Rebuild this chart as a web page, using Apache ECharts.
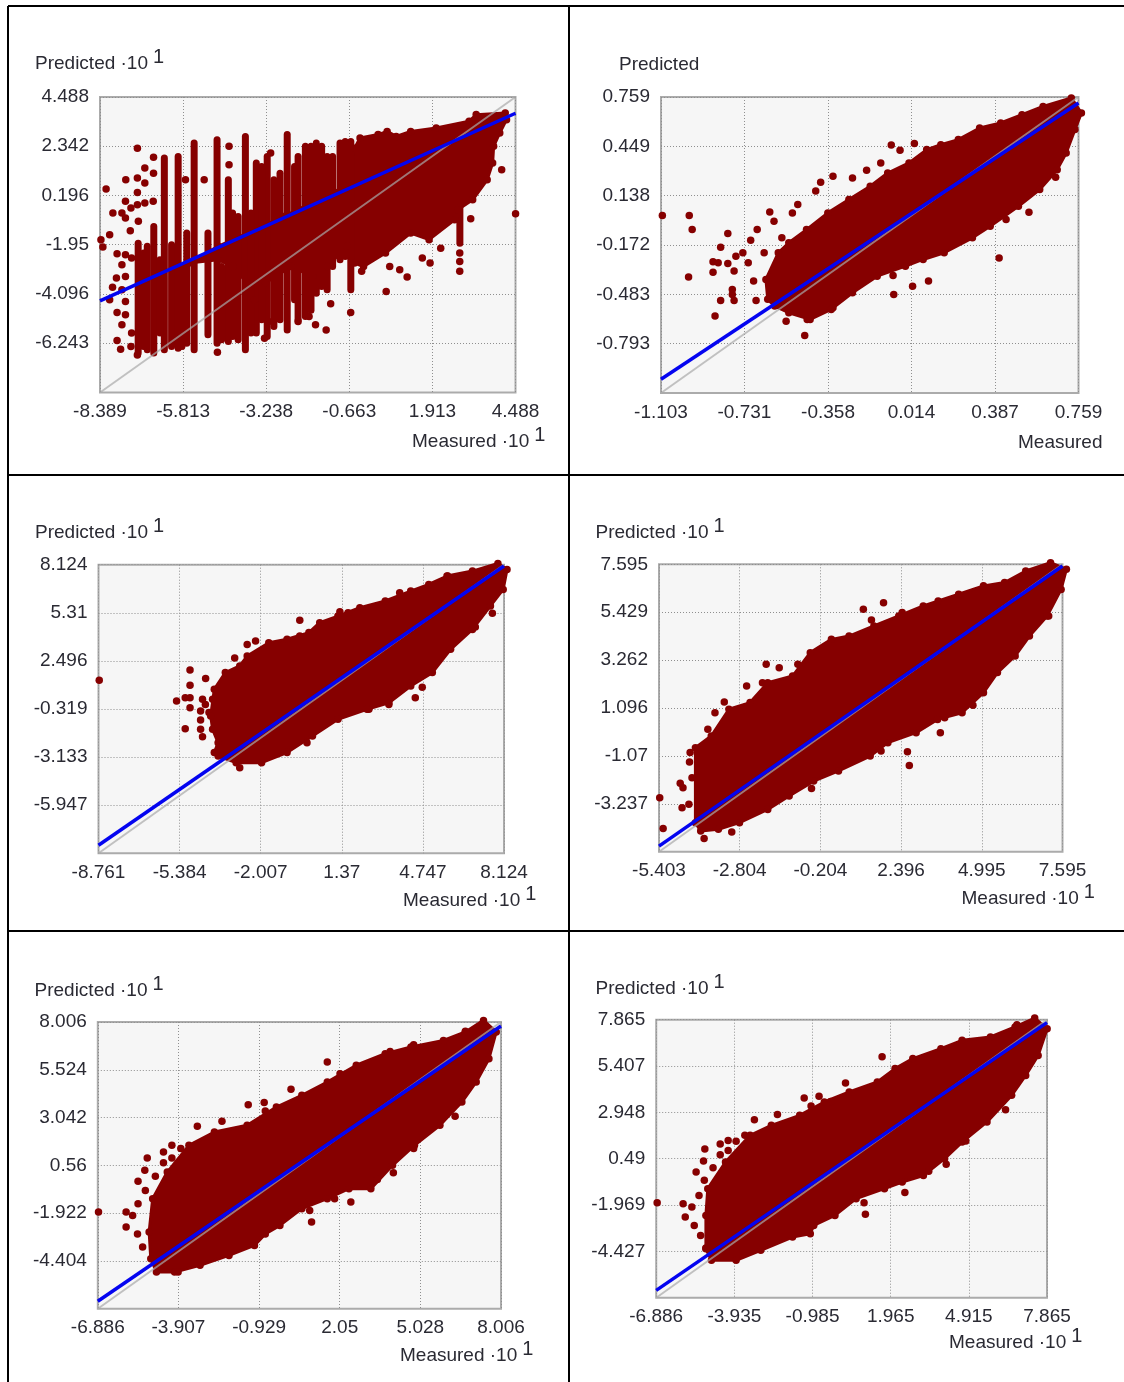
<!DOCTYPE html>
<html><head><meta charset="utf-8">
<script src="https://cdn.jsdelivr.net/npm/echarts@6/dist/echarts.min.js"></script>
<style>html,body{margin:0;padding:0;background:#fff}#c{width:1124px;height:1382px}</style>
</head><body><div id="c"></div>
<script>
// ---------- data (axis units) ----------
const p1X=[-8.389,-5.813,-3.238,-0.663,1.913,4.488];
const p1Y=[-6.243,-4.096,-1.95,0.196,2.342,4.488];
const p1Min=-8.389,p1Max=4.488;
const p1Blue=[[-8.389,-4.396],[4.488,3.78]];
const p1Cloud=[[-0.5,2.26],[-0.33,2.7],[0.23,2.85],[0.51,2.99],[0.79,2.77],[1.24,2.99],[2.03,3.14],[3.05,3.43],[3.27,3.72],[4.17,3.79],[4.21,3.5],[4.0,2.92],[3.81,2.34],[3.78,1.61],[3.61,0.88],[3.16,0.01],[2.71,-0.42],[2.6,-0.86],[1.81,-1.73],[1.24,-1.44],[0.46,-2.31],[-0.22,-2.9],[-0.5,-2.75],[-0.73,-2.02],[-1.35,-2.9],[-1.8,-3.33],[-2.47,-2.9],[-3.26,-3.62],[-3.6,-4.35],[-3.83,-3.62],[-4.28,-2.9],[-4.73,-2.6],[-5.63,-2.75],[-4.73,-2.02],[-2.7,-0.72],[-0.79,0.59]];
const p1Stripes=[[-7.206,-1.88,-6.67],[-6.924,-2.02,-6.53],[-6.722,-1.15,-6.67],[-6.395,1.83,-6.53],[-6.17,-1.95,-6.38],[-5.967,1.9,-6.46],[-5.7,-1.44,-6.24],[-5.471,2.48,-6.53],[-5.043,-1.44,-5.87],[-4.761,2.63,-6.24],[-4.412,0.88,-6.17],[-4.108,-0.72,-6.09],[-3.883,2.77,-6.53],[-3.545,1.61,-5.8],[-3.207,1.9,-5.95],[-3.0,0.88,-5.51],[-2.587,2.85,-5.66],[-2.25,1.9,-5.22],[-2.024,2.34,-5.08],[-1.686,2.48,-4.06],[-1.35,1.9,-3.91],[-0.95,2.48,-2.6],[-0.616,2.55,-3.91],[2.764,-0.28,-1.88],[-2.36,1.46,-4.35],[-1.85,2.34,-4.8],[-1.52,2.34,-3.77],[-1.18,1.9,-2.9],[-0.79,2.55,-2.46],[-4.62,-2.9,-6.09],[-4.28,-0.57,-5.95],[-3.71,-0.57,-5.8],[-3.38,1.46,-5.22],[-2.81,1.17,-5.22],[-7.04,-2.31,-6.38],[-6.53,-2.6,-5.8],[-5.85,-2.9,-6.38]];
const p1Strays=[[-8.2,0.48],[-7.23,2.25],[-7.0,1.39],[-6.73,1.86],[-6.73,1.17],[-7.59,0.88],[-7.23,0.96],[-7.0,0.74],[-7.23,0.33],[-7.6,-0.06],[-7.23,-0.21],[-7.0,-0.13],[-6.74,-0.06],[-7.43,-0.35],[-7.99,-0.57],[-7.71,-0.57],[-7.6,-0.79],[-7.2,-0.93],[-7.45,-1.34],[-8.09,-1.51],[-8.36,-1.73],[-8.3,-2.05],[-7.86,-2.34],[-7.6,-2.39],[-7.41,-2.53],[-7.71,-2.82],[-7.88,-3.4],[-7.6,-3.33],[-8.0,-3.8],[-7.71,-3.91],[-8.09,-4.35],[-7.6,-4.42],[-7.86,-4.9],[-7.6,-5.0],[-7.71,-5.44],[-7.86,-6.12],[-7.75,-6.5],[-7.23,-6.75],[-7.43,-6.38],[-7.41,-5.8],[-4.75,-6.63],[-3.29,-6.02],[-1.38,-5.66],[-1.71,-5.44],[-1.24,-4.52],[-0.62,-4.9],[0.48,-3.99],[1.13,-3.36],[1.6,-2.53],[1.84,-2.75],[0.59,-2.9],[0.9,-3.04],[-0.28,-3.11],[2.17,-2.1],[3.1,-0.82],[2.76,-2.31],[2.76,-2.68],[2.76,-3.11],[4.06,1.32],[4.49,-0.6],[-4.39,2.34],[-4.39,1.54],[-5.74,0.88],[-5.16,0.88],[-3.1,2.05],[-2.25,-5.3],[-1.91,-5.08],[-3.04,-5.3]];

const p2X=[-1.103,-0.731,-0.358,0.014,0.387,0.759];
const p2Y=[-0.793,-0.483,-0.172,0.138,0.449,0.759];
const p2Min=-1.103,p2Max=0.759;
const p2Blue=[[-1.103,-1.017],[0.759,0.721]];
const p2Cloud=[[-0.627,-0.514],[-0.635,-0.389],[-0.58,-0.221],[-0.533,-0.158],[-0.454,-0.075],[-0.359,0.03],[-0.265,0.114],[-0.17,0.198],[-0.092,0.281],[0.003,0.344],[0.082,0.428],[0.145,0.459],[0.223,0.491],[0.318,0.564],[0.412,0.596],[0.507,0.648],[0.601,0.7],[0.727,0.753],[0.772,0.658],[0.743,0.554],[0.704,0.407],[0.664,0.302],[0.586,0.177],[0.491,0.072],[0.365,-0.054],[0.286,-0.127],[0.16,-0.221],[0.066,-0.263],[-0.013,-0.305],[-0.139,-0.368],[-0.249,-0.473],[-0.344,-0.577],[-0.438,-0.64],[-0.533,-0.598],[-0.596,-0.556]];
const p2Strays=[[-1.097,0.013],[-0.977,0.013],[-0.964,-0.075],[-0.98,-0.374],[-0.805,-0.1],[-0.837,-0.186],[-0.871,-0.278],[-0.848,-0.284],[-0.871,-0.343],[-0.805,-0.288],[-0.769,-0.242],[-0.777,-0.336],[-0.738,-0.221],[-0.714,-0.284],[-0.703,-0.142],[-0.674,-0.075],[-0.618,0.036],[-0.599,-0.022],[-0.564,-0.127],[-0.643,-0.221],[-0.69,-0.399],[-0.785,-0.452],[-0.785,-0.483],[-0.837,-0.521],[-0.777,-0.521],[-0.679,-0.521],[-0.862,-0.619],[-0.545,-0.651],[-0.462,-0.741],[-0.451,-0.64],[-0.076,0.457],[0.027,0.466],[-0.037,0.424],[-0.123,0.344],[-0.186,0.298],[-0.336,0.26],[-0.391,0.223],[-0.413,0.168],[-0.493,0.082],[-0.517,0.03],[-0.249,0.25],[-0.068,-0.364],[0.019,-0.431],[0.09,-0.399],[-0.065,-0.483],[0.405,-0.253],[0.538,0.034],[0.436,-0.012],[0.657,0.254],[-0.336,-0.567]];

const p3X=[-8.761,-5.384,-2.007,1.37,4.747,8.124];
const p3Y=[-5.947,-3.133,-0.319,2.496,5.31,8.124];
const p3Min=-8.761,p3Max=8.124;
const p3Blue=[[-8.761,-8.293],[8.124,8.05]];
const p3Cloud=[[-3.94,-2.87],[-3.78,-2.29],[-4.01,-1.51],[-4.09,-0.73],[-3.94,0.83],[-3.48,1.81],[-2.88,2.2],[-2.57,2.78],[-1.67,3.56],[-0.91,3.76],[0,4.15],[0.45,4.73],[1.21,5.12],[2.12,5.61],[3.18,6.0],[4.24,6.58],[4.99,6.97],[5.75,7.46],[6.81,7.75],[7.87,8.2],[8.25,7.85],[8.09,6.68],[7.56,5.71],[6.81,4.34],[5.9,3.17],[5.14,1.81],[4.24,1.03],[3.33,0.05],[2.42,-0.34],[1.21,-0.92],[0.15,-1.9],[-0.91,-2.87],[-1.97,-3.46],[-3.03,-3.46],[-3.78,-3.07]];
const p3Strays=[[-8.73,1.36],[-4.95,1.96],[-4.3,1.47],[-4.95,1.07],[-5.51,0.15],[-5.15,0.34],[-4.95,0.34],[-4.95,-0.24],[-4.43,0.25],[-4.01,0.25],[-4.31,-0.05],[-4.51,-0.44],[-4.16,-0.53],[-4.51,-0.96],[-5.15,-1.47],[-4.51,-1.51],[-4.43,-1.94],[-2.88,-3.75],[-3.09,2.66],[-2.57,3.46],[-2.22,3.66],[-0.38,4.87],[-0.38,3.95],[1.29,5.37],[1.63,5.32],[3.78,6.49],[5.78,7.46],[7.64,5.28],[6.93,4.48],[4.72,0.95],[4.43,0.34],[3.33,-0.05],[2.5,-0.34],[-0.08,-2.29]];

const p4X=[-5.403,-2.804,-0.204,2.396,4.995,7.595];
const p4Y=[-3.237,-1.07,1.096,3.262,5.429,7.595];
const p4Min=-5.403,p4Max=7.595;
const p4Blue=[[-5.403,-5.15],[7.595,7.52]];
const p4Cloud=[[-4.23,-4.09],[-4.23,-0.7],[-3.72,-0.17],[-3.15,1.04],[-2.47,1.34],[-1.9,2.24],[-1.1,2.54],[-0.53,3.6],[0.15,4.2],[0.72,4.35],[1.52,4.81],[2.32,5.26],[3.11,5.71],[4.25,6.24],[5.05,6.62],[5.73,6.77],[6.41,7.29],[7.21,7.67],[7.72,7.37],[7.55,6.46],[7.1,5.26],[6.53,4.35],[6.07,3.45],[5.5,2.7],[5.05,1.79],[4.36,0.88],[3.57,0.58],[2.88,-0.02],[1.97,-0.47],[1.4,-1.08],[0.38,-1.75],[-0.42,-2.21],[-1.21,-2.88],[-1.9,-3.49],[-2.81,-4.09],[-3.49,-4.39],[-4.06,-4.47]];
const p4Strays=[[-5.38,-2.96],[-5.27,-4.35],[-3.95,-4.81],[-3.06,-4.51],[-4.66,-3.41],[-4.44,-3.26],[-4.72,-2.31],[-4.63,-2.51],[-4.34,-2.06],[-4.4,-0.92],[-4.42,-1.35],[-3.3,1.37],[-3.6,0.88],[-3.83,0.13],[-2.58,2.09],[-2.07,2.24],[-1.95,3.07],[-1.53,2.92],[-0.93,3.07],[1.18,5.56],[1.83,5.86],[1.44,5.08],[2.43,5.41],[3.59,5.94],[4.71,1.22],[3.8,0.66],[3.66,-0.02],[2.6,-0.88],[2.66,-1.5],[1.75,-0.85],[-0.49,-2.55],[7.15,5.26]];

const p5X=[-6.886,-3.907,-0.929,2.05,5.028,8.006];
const p5Y=[-4.404,-1.922,0.56,3.042,5.524,8.006];
const p5Min=-6.886,p5Max=8.006;
const p5Blue=[[-6.886,-6.5],[8.006,7.8]];
const p5Cloud=[[-4.93,-4.29],[-4.99,-2.9],[-4.86,-1.17],[-4.32,0.21],[-3.52,1.6],[-2.58,2.29],[-1.37,2.64],[-0.29,3.59],[0.65,4.2],[1.59,4.89],[2.66,5.76],[3.73,6.36],[4.68,6.71],[5.88,7.05],[6.69,7.49],[7.36,8.09],[7.83,7.49],[7.56,6.1],[7.09,4.89],[6.56,3.85],[5.75,2.64],[4.81,1.6],[4.0,0.56],[3.2,-0.65],[2.39,-0.65],[1.59,-1.17],[0.65,-1.69],[-0.16,-2.56],[-0.7,-3.0],[-1.1,-3.6],[-2.04,-4.12],[-3.11,-4.63],[-4.05,-4.98],[-4.72,-4.98]];
const p5Strays=[[-6.86,-1.86],[-5.84,-1.86],[-5.84,-2.64],[-5.6,-2.04],[-5.4,-1.43],[-5.42,-3.0],[-5.23,-3.68],[-5.15,0.3],[-5.4,-0.27],[-5.06,0.94],[-4.76,0],[-5.13,-0.74],[-4.46,1.25],[-4.15,1.6],[-4.46,0.7],[-4.15,0.94],[-3.82,1.43],[-3.21,2.59],[-2.3,2.85],[-1.33,3.71],[-0.74,3.82],[-0.7,3.38],[0.25,4.51],[1.59,5.93],[2.06,5.32],[3.91,6.48],[4.78,6.83],[6.69,7.52],[6.31,3.11],[4.78,1.43],[4.03,0.18],[3.44,-0.17],[2.46,-1.34],[1.86,-1.17],[0.94,-1.78],[1.01,-2.38],[-3.92,-4.98]];

const p6X=[-6.886,-3.935,-0.985,1.965,4.915,7.865];
const p6Y=[-4.427,-1.969,0.49,2.948,5.407,7.865];
const p6Min=-6.886,p6Max=7.865;
const p6Blue=[[-6.886,-6.5],[7.865,7.71]];
const p6Cloud=[[-5.01,-4.29],[-5.01,-2.52],[-4.94,-1.1],[-4.27,0.31],[-3.34,1.73],[-2.54,2.26],[-1.47,2.79],[-0.54,3.5],[0.4,4.03],[1.46,4.56],[2.13,5.27],[2.8,5.8],[3.86,6.33],[4.66,6.77],[5.73,6.95],[6.66,7.48],[7.4,7.95],[7.87,7.39],[7.53,5.97],[7.06,4.91],[6.53,3.85],[5.6,2.44],[4.66,1.37],[4.0,0.49],[3.2,-0.4],[2.4,-0.75],[1.73,-1.1],[0.66,-1.63],[-0.14,-2.52],[-0.94,-3.05],[-1.07,-3.49],[-1.74,-3.67],[-2.94,-4.37],[-3.87,-4.9],[-4.8,-4.9]];
const p6Strays=[[-6.85,-1.85],[-5.87,-1.9],[-5.79,-2.6],[-5.54,-2.07],[-5.27,-1.46],[-5.45,-3.05],[-5.21,-3.58],[-5.01,-4.25],[-5.38,-0.22],[-5.1,0.37],[-5.05,1.0],[-4.74,0.01],[-5.07,-0.66],[-4.47,1.27],[-4.47,0.7],[-4.17,1.46],[-4.17,0.93],[-3.87,1.41],[-3.54,1.73],[-3.18,2.56],[-2.31,2.84],[-1.3,3.71],[-0.74,3.8],[-1.04,3.28],[-0.3,3.53],[0.26,4.5],[1.64,5.9],[6.3,3.09],[4.8,1.43],[4.06,0.19],[3.4,-0.17],[2.5,-1.31],[0.96,-1.85],[1.01,-2.46],[6.73,7.6]];

// ---------- layout and style ----------
const panels=[
 {x:p1X,y:p1Y,min:p1Min,max:p1Max,blue:p1Blue,cloud:p1Cloud,strays:p1Strays,stripes:p1Stripes,left:100,top:97,right:515.5,bottom:392.5,yName:'Predicted ·10',xName:'Measured ·10',sup:true,yn:[35,63],xn:[412,441]},
 {x:p2X,y:p2Y,min:p2Min,max:p2Max,blue:p2Blue,cloud:p2Cloud,strays:p2Strays,stripes:[],left:661,top:97,right:1078.5,bottom:393,yName:'Predicted',xName:'Measured',sup:false,yn:[619,64],xn:[1018,442]},
 {x:p3X,y:p3Y,min:p3Min,max:p3Max,blue:p3Blue,cloud:p3Cloud,strays:p3Strays,stripes:[],left:98.5,top:564.7,right:504,bottom:853.3,yName:'Predicted ·10',xName:'Measured ·10',sup:true,yn:[35,532],xn:[403,900]},
 {x:p4X,y:p4Y,min:p4Min,max:p4Max,blue:p4Blue,cloud:p4Cloud,strays:p4Strays,stripes:[],left:659,top:564.3,right:1062.5,bottom:851.7,yName:'Predicted ·10',xName:'Measured ·10',sup:true,yn:[595.5,532],xn:[961.5,898]},
 {x:p5X,y:p5Y,min:p5Min,max:p5Max,blue:p5Blue,cloud:p5Cloud,strays:p5Strays,stripes:[],left:97.8,top:1022,right:501,bottom:1308.7,yName:'Predicted ·10',xName:'Measured ·10',sup:true,yn:[34.5,990],xn:[400,1355]},
 {x:p6X,y:p6Y,min:p6Min,max:p6Max,blue:p6Blue,cloud:p6Cloud,strays:p6Strays,stripes:[],left:656.2,top:1019.7,right:1047,bottom:1297.7,yName:'Predicted ·10',xName:'Measured ·10',sup:true,yn:[595.5,988],xn:[949,1342]}
];
const RED='#860000', FONT='"Liberation Sans",Arial,sans-serif', TXT='#2a2a33', DOT=7.5;
const fmt=v=>String(+(+v).toFixed(3));
const grid=[],xAxis=[],yAxis=[],series=[],title=[];
const axisCommon=p=>({type:'value',min:p.min,max:p.max,axisLine:{show:false},
  splitLine:{show:true,lineStyle:{color:'#8f8f8f',type:[1,2],width:1}}});
panels.forEach((p,i)=>{
  grid.push({left:p.left,top:p.top,width:p.right-p.left,height:p.bottom-p.top,show:true,backgroundColor:'#f6f6f6',borderColor:'#ababab',borderWidth:2,containLabel:false});
  xAxis.push(Object.assign(axisCommon(p),{gridIndex:i,axisTick:{show:false,customValues:p.x},
    axisLabel:{customValues:p.x,formatter:fmt,margin:10,fontSize:19,fontFamily:FONT,color:TXT,hideOverlap:false,showMinLabel:true,showMaxLabel:true}}));
  yAxis.push(Object.assign(axisCommon(p),{gridIndex:i,axisTick:{show:false,customValues:p.y},
    axisLabel:{customValues:p.y,formatter:fmt,margin:11,fontSize:19,fontFamily:FONT,color:TXT,hideOverlap:false,showMinLabel:true,showMaxLabel:true,padding:[4,0,0,0]}}));
  [[p.yName,p.yn],[p.xName,p.xn]].forEach(([t,pos])=>{
    title.push({text:p.sup?'{a|'+t+'}{s|1}':'{a|'+t+'}',left:pos[0],top:pos[1]-15,padding:0,itemGap:0,
      textStyle:{fontWeight:'normal',rich:{a:{fontSize:19,fontWeight:'normal',fontFamily:FONT,color:TXT,padding:[8,0,0,0],lineHeight:24},
        s:{fontSize:20,fontWeight:'normal',fontFamily:FONT,color:TXT,padding:[0,0,5,5],lineHeight:24}}}});
  });
  const poly=p.cloud;
  series.push({type:'custom',xAxisIndex:i,yAxisIndex:i,silent:true,clip:false,z:2,data:poly,encode:{x:0,y:1},
    renderItem:(params,api)=>{
      if(params.dataIndex!==0) return null;
      return {type:'polygon',shape:{points:poly.map(q=>api.coord(q))},style:{fill:RED,stroke:RED,lineWidth:3,lineJoin:'round'}};
    }});
  if(p.stripes.length) series.push({type:'custom',xAxisIndex:i,yAxisIndex:i,silent:true,clip:false,z:2,data:p.stripes,encode:{x:0,y:[1,2]},
    renderItem:(params,api)=>{
      const a=api.coord([api.value(0),api.value(1)]),b=api.coord([api.value(0),api.value(2)]);
      return {type:'line',shape:{x1:a[0],y1:a[1],x2:b[0],y2:b[1]},style:{stroke:RED,lineWidth:7,lineCap:'round'}};
    }});
  series.push({type:'scatter',xAxisIndex:i,yAxisIndex:i,silent:true,clip:false,z:3,symbol:'circle',symbolSize:DOT,itemStyle:{color:RED,opacity:1},data:p.strays.concat(p.cloud)});
  series.push({type:'line',xAxisIndex:i,yAxisIndex:i,silent:true,z:4,symbol:'none',lineStyle:{color:'#a9a9a9',width:2,opacity:0.7},data:[[p.min,p.min],[p.max,p.max]]});
  series.push({type:'line',xAxisIndex:i,yAxisIndex:i,silent:true,z:5,symbol:'none',lineStyle:{color:'#0404f0',width:3.5},data:p.blue});
});
const frame=(x1,y1,x2,y2)=>({type:'line',silent:true,z:10,shape:{x1,y1,x2,y2},style:{stroke:'#000',lineWidth:2}});
const chart=echarts.init(document.getElementById('c'),null,{renderer:'canvas'});
chart.setOption({animation:false,backgroundColor:'#fff',tooltip:{show:false},legend:{show:false},title,grid,xAxis,yAxis,series,
  graphic:[frame(8,6,1124,6),frame(8,475,1124,475),frame(8,931,1124,931),frame(8,6,8,1382),frame(569,6,569,1382)]});
</script></body></html>
